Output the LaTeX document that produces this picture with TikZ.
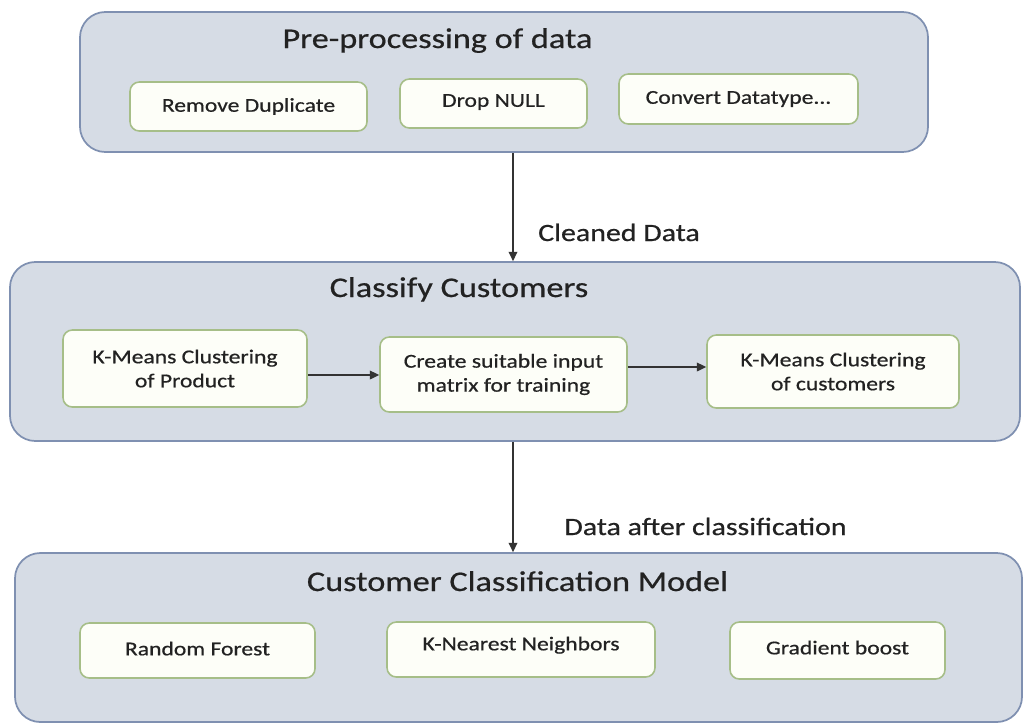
\documentclass[tikz,border=0pt]{standalone}
\usepackage{fontspec}
\setmainfont{Carlito}[FakeStretch=1.2,FakeBold=0.6]
\usetikzlibrary{arrows.meta,calc}
\definecolor{panelfill}{HTML}{D6DCE5}
\definecolor{paneldraw}{HTML}{7F90B1}
\definecolor{itemdraw}{HTML}{A6BE88}
\definecolor{itemfill}{HTML}{FDFEF8}
\definecolor{txt}{HTML}{222222}
\definecolor{arrowc}{HTML}{333333}
\begin{document}
\begin{tikzpicture}[x=0.75pt,y=-0.75pt,
 panel/.style={draw=paneldraw,fill=panelfill,line width=1.3pt,rounded corners=19pt,inner sep=0pt},
 item/.style={draw=itemdraw,fill=itemfill,line width=1.2pt,rounded corners=7pt,inner sep=0pt,align=center,text=txt,font=\fontsize{14.75}{18}\selectfont},
 ptitle/.style={anchor=base,text=txt,font=\fontsize{21.4}{26}\selectfont,inner sep=0pt},
 flowlabel/.style={anchor=base,text=txt,font=\fontsize{18.7}{22}\selectfont,inner sep=0pt},
 arr/.style={draw=arrowc,line width=1.1pt,-{Triangle[length=7pt,width=6.5pt]}},
]
\fill[white] (0,0) rectangle (1027,722);
\useasboundingbox (0,0) rectangle (1027,722);

% panels
\node[panel,minimum width=636pt,minimum height=105pt] (pre) at (504,82) {};
\node[panel,minimum width=757.5pt,minimum height=134.25pt] (cls) at (515,351.5) {};
\node[panel,minimum width=755.25pt,minimum height=126.75pt] (mdl) at (518.5,637.5) {};

% titles
\node[ptitle] (tpre) at (437.5,48) {Pre-processing of data};
\node[ptitle] (tcls) at (459,297) {Classify Customers};
\node[ptitle] (tmdl) at (517.5,591) {Customer Classification Model};

% items: pre-processing
\node[item,minimum width=177.75pt,minimum height=36.75pt] (rd) at (248.5,106.5) {Remove Duplicate};
\node[item,minimum width=140.25pt,minimum height=36.75pt] (dn) at (493.5,103.5) {\raisebox{4.5pt}{Drop NULL}};
\node[item,minimum width=179.25pt,minimum height=37.5pt] (cd) at (738.5,99) {Convert Datatype...};

% items: classify
\node[item,minimum width=183pt,minimum height=57.75pt] (kmp) at (185,368.5) {K-Means Clustering\\of Product};
\node[item,minimum width=185.25pt,minimum height=56.25pt] (cs) at (503.5,374.5) {Create suitable input\\matrix for training};
\node[item,minimum width=189pt,minimum height=54.75pt] (kmc) at (833,371.5) {K-Means Clustering\\of customers};

% items: model
\node[item,minimum width=176.25pt,minimum height=41.25pt] (rf) at (197.5,650.5) {\raisebox{3pt}{Random Forest}};
\node[item,minimum width=201pt,minimum height=41.25pt] (knn) at (521,649.5) {\raisebox{9pt}{K-Nearest Neighbors}};
\node[item,minimum width=161.25pt,minimum height=42.75pt] (gb) at (837.5,650.5) {\raisebox{4.5pt}{Gradient boost}};

% connectors
\coordinate (ax) at (513,0);
\draw[arr] (pre.south -| ax) -- (cls.north -| ax);
\draw[arr] (cls.south -| ax) -- (mdl.north -| ax);
\coordinate (h1) at (0,375);
\coordinate (h2) at (0,367);
\draw[arr] (kmp.east |- h1) -- (cs.west |- h1);
\draw[arr] (cs.east |- h2) -- (kmc.west |- h2);

% flow labels
\node[flowlabel] (lclean) at (619,241) {Cleaned Data};
\node[flowlabel] (lafter) at (705.5,535) {Data after classification};
\end{tikzpicture}
\end{document}
